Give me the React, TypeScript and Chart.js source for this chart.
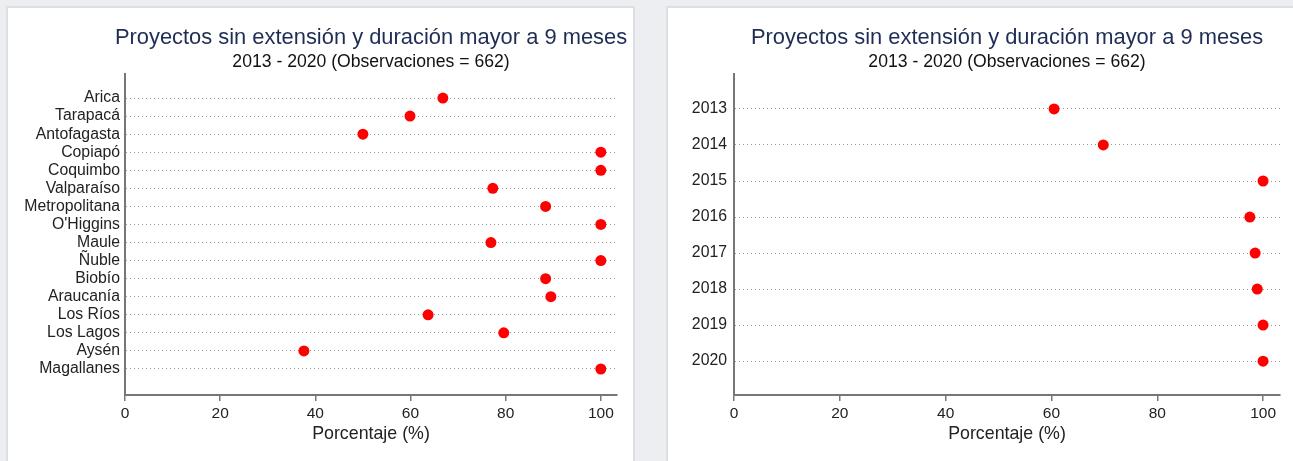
import React, { useEffect, useRef } from "react";
import { Chart, registerables } from "chart.js";

Chart.register(...registerables);

const TITLE = "Proyectos sin extensión y duración mayor a 9 meses";
const SUBTITLE = "2013 - 2020 (Observaciones = 662)";
const X_TITLE = "Porcentaje (%)";

const regions = [
  "Arica", "Tarapacá", "Antofagasta", "Copiapó", "Coquimbo", "Valparaíso",
  "Metropolitana", "O'Higgins", "Maule", "Ñuble", "Biobío", "Araucanía",
  "Los Ríos", "Los Lagos", "Aysén", "Magallanes",
];
const regionValues = [
  66.8, 59.9, 50.0, 100, 100, 77.3, 88.4, 100, 76.9, 100, 88.4, 89.5,
  63.7, 79.6, 37.6, 100,
];

const years = ["2013", "2014", "2015", "2016", "2017", "2018", "2019", "2020"];
const yearValues = [60.5, 69.8, 100, 97.5, 98.5, 98.9, 100, 100];

const xTicks = [0, 20, 40, 60, 80, 100];

const FONT = "'Liberation Sans', Arial, sans-serif";

type Cfg = {
  labels: string[];
  values: number[];
  width: number;
  height: number;
  yAxisWidth: number;
  padRight: number;
  yMin: number;
  yMax: number;
  xMax: number;
  labelPad: number;
};

function DotChart(props: Cfg) {
  const ref = useRef<HTMLCanvasElement | null>(null);
  useEffect(() => {
    if (!ref.current) return;
    const { labels, values } = props;
    const titlePlugin = {
      id: "centeredTitle",
      afterDraw(chart: any) {
        const { ctx, chartArea } = chart;
        const cx = (chartArea.left + chartArea.right) / 2;
        ctx.save();
        ctx.textAlign = "center";
        ctx.textBaseline = "middle";
        ctx.fillStyle = "#1f2d55";
        ctx.font = `21.9px ${FONT}`;
        ctx.fillText(TITLE, cx, 30);
        ctx.fillStyle = "#111111";
        ctx.font = `17.6px ${FONT}`;
        ctx.fillText(SUBTITLE, cx, 54);
        ctx.restore();
      },
    };
    const chart = new Chart(ref.current, {
      type: "scatter",
      data: {
        datasets: [
          {
            data: values.map((v, i) => ({ x: v, y: i })),
            backgroundColor: "#ff0000",
            borderColor: "#ff0000",
            pointRadius: 5.5,
            pointHoverRadius: 5.5,
            borderWidth: 0,
          },
        ],
      },
      options: {
        responsive: false,
        animation: false,
        layout: { padding: { top: 66, right: props.padRight, left: 0, bottom: 0 } },
        plugins: { legend: { display: false }, tooltip: { enabled: false }, title: { display: false } },
        scales: {
          x: {
            type: "linear",
            min: 0,
            max: props.xMax,
            afterFit: (s: any) => { s.height = 66; },
            afterBuildTicks: (s: any) => { s.ticks = xTicks.map((v) => ({ value: v })); },
            ticks: { color: "#222222", font: { family: FONT, size: 15.5 }, padding: 3, includeBounds: false, autoSkip: false, maxRotation: 0 },
            grid: { drawOnChartArea: false, drawTicks: true, tickLength: 6, color: "#777777", lineWidth: 1.5 },
            border: { display: true, color: "#777777", width: 2 },
            title: { display: true, text: X_TITLE, color: "#222222", font: { family: FONT, size: 17.8 }, padding: { top: 0, bottom: 16 } },
          },
          y: {
            type: "linear",
            reverse: true,
            min: props.yMin,
            max: props.yMax,
            afterFit: (s: any) => { s.width = props.yAxisWidth; },
            afterBuildTicks: (s: any) => { s.ticks = labels.map((_, i) => ({ value: i })); },
            ticks: {
              color: "#222222",
              font: { family: FONT, size: 15.8, lineHeight: 1 },
              padding: props.labelPad,
              autoSkip: false,
              callback: (v: any) => labels[v as number] ?? "",
            },
            grid: { drawTicks: false, color: "#9a9a9a", lineWidth: 1 },
            border: { display: true, color: "#777777", width: 2, dash: [1, 3] },
          },
        },
      },
      plugins: [titlePlugin],
    } as any);
    return () => chart.destroy();
  }, []);
  return <canvas ref={ref} width={props.width} height={props.height} style={{ position: "absolute", left: 0, top: 0 }} />;
}

export default function App() {
  return (
    <div style={{ position: "fixed", left: 0, top: 0, width: 1293, height: 461, background: "#eceef2", overflow: "hidden" }}>
      <div style={{ position: "absolute", left: 6, top: 6, width: 629, height: 480, boxSizing: "border-box", border: "2px solid #dcdfe4", background: "#ffffff" }}>
        <DotChart labels={regions} values={regionValues} width={624} height={453} yAxisWidth={117} padRight={15} yMin={-1.33} yMax={16.44} xMax={103.4} labelPad={5} />
      </div>
      <div style={{ position: "absolute", left: 666, top: 6, width: 660, height: 480, boxSizing: "border-box", border: "2px solid #dcdfe4", background: "#ffffff" }}>
        <DotChart labels={years} values={yearValues} width={625} height={453} yAxisWidth={66} padRight={13} yMin={-0.97} yMax={7.94} xMax={103.2} labelPad={7} />
      </div>
    </div>
  );
}
